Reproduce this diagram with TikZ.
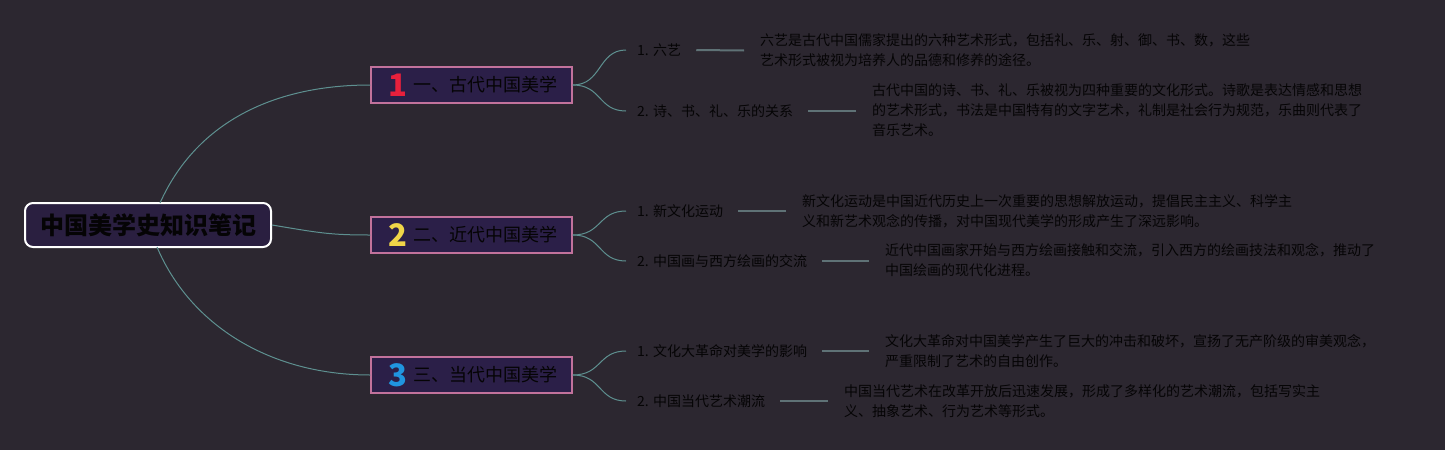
\documentclass[tikz,border=0pt]{standalone}
\usepackage{fontspec}
\setmainfont{Noto Sans CJK SC}
\definecolor{bg}{HTML}{2C2730}
\definecolor{boxfill}{HTML}{2B1F48}
\definecolor{rootfill}{HTML}{2A1F40}
\definecolor{pinkb}{HTML}{C2729C}
\definecolor{conn}{HTML}{5E9090}
\definecolor{leafl}{HTML}{5F7276}
\definecolor{txt}{HTML}{050405}
\definecolor{nred}{HTML}{E8203C}
\definecolor{nyel}{HTML}{F0D548}
\definecolor{nblue}{HTML}{2095E0}
\tikzset{
  rootbox/.style={draw=white, line width=2pt, fill=rootfill, rounded corners=8pt, minimum width=246pt, minimum height=44pt, inner sep=0pt, text=txt, font=\fontsize{24}{28}\selectfont\bfseries},
  branchbox/.style={draw=pinkb, line width=1.5pt, fill=boxfill, minimum width=201pt, minimum height=36pt, inner sep=0pt, text=txt, font=\fontsize{18}{22}\selectfont},
  numtxt/.style={inner sep=0pt, font=\fontsize{31}{32}\selectfont\bfseries},
  branchtxt/.style={anchor=west, inner sep=0pt, text=txt, font=\fontsize{18}{22}\selectfont},
  leaflabel/.style={anchor=west, inner sep=0pt, text=txt, font=\fontsize{14}{20}\selectfont},
  desc/.style={anchor=west, inner sep=0pt, text=txt, align=left, font=\fontsize{14}{20}\selectfont},
  bconn/.style={draw=conn, line width=1pt},
  lconn/.style={draw=leafl, line width=2pt},
}
\begin{document}
\begin{tikzpicture}[x=1pt,y=-1pt]
\fill[bg] (0,0) rectangle (1445,450);
\useasboundingbox (0,0) rectangle (1445,450);

% root
\node[rootbox] (root) at (148,225) {中国美学史知识笔记};

% branch boxes
\node[branchbox] (b1) at (471.5,85) {};
\node[branchbox] (b2) at (471.5,235) {};
\node[branchbox] (b3) at (471.5,375) {};
\node[numtxt, text=nred] (n1) at (398,85) {1};
\node[numtxt, text=nyel] (n2) at (398,235) {2};
\node[numtxt, text=nblue] (n3) at (398,375) {3};
\node[branchtxt] (t1) at (413,85) {一、古代中国美学};
\node[branchtxt] (t2) at (413,235) {二、近代中国美学};
\node[branchtxt] (t3) at (413,375) {三、当代中国美学};

% root connectors
\coordinate (rt) at (160,203);
\coordinate (rb) at (157,247);
\draw[bconn] (rt) .. controls (195,125) and (270,85) .. (b1.west);
\draw[bconn] (root.east) .. controls (320,233) and (330,235) .. (b2.west);
\draw[bconn] (rb) .. controls (190,325) and (270,375) .. (b3.west);

% leaf labels
\node[leaflabel] (l11) at (637,50) {1. 六艺};
\node[leaflabel] (l12) at (637,111) {2. 诗、书、礼、乐的关系};
\node[leaflabel] (l21) at (637,211) {1. 新文化运动};
\node[leaflabel] (l22) at (637,261) {2. 中国画与西方绘画的交流};
\node[leaflabel] (l31) at (637,351) {1. 文化大革命对美学的影响};
\node[leaflabel] (l32) at (637,401) {2. 中国当代艺术潮流};

% branch -> leaf connectors
\coordinate (e11) at (626,50);
\coordinate (e12) at (626,111);
\coordinate (e21) at (626,211);
\coordinate (e22) at (626,261);
\coordinate (e31) at (626,351);
\coordinate (e32) at (626,401);
\draw[bconn] (b1.east) .. controls (602,85) and (598,50) .. (e11);
\draw[bconn] (b1.east) .. controls (602,85) and (598,111) .. (e12);
\draw[bconn] (b2.east) .. controls (602,235) and (598,211) .. (e21);
\draw[bconn] (b2.east) .. controls (602,235) and (598,261) .. (e22);
\draw[bconn] (b3.east) .. controls (602,375) and (598,351) .. (e31);
\draw[bconn] (b3.east) .. controls (602,375) and (598,401) .. (e32);

% descriptions
\node[desc] (d11) at (760,50.5) {六艺是古代中国儒家提出的六种艺术形式，包括礼、乐、射、御、书、数，这些\\艺术形式被视为培养人的品德和修养的途径。};
\node[desc] (d12) at (872,110.5) {古代中国的诗、书、礼、乐被视为四种重要的文化形式。诗歌是表达情感和思想\\的艺术形式，书法是中国特有的文字艺术，礼制是社会行为规范，乐曲则代表了\\音乐艺术。};
\node[desc] (d21) at (802,211) {新文化运动是中国近代历史上一次重要的思想解放运动，提倡民主主义、科学主\\义和新艺术观念的传播，对中国现代美学的形成产生了深远影响。};
\node[desc] (d22) at (885,260.5) {近代中国画家开始与西方绘画接触和交流，引入西方的绘画技法和观念，推动了\\中国绘画的现代化进程。};
\node[desc] (d31) at (885,351) {文化大革命对中国美学产生了巨大的冲击和破坏，宣扬了无产阶级的审美观念，\\严重限制了艺术的自由创作。};
\node[desc] (d32) at (844,401) {中国当代艺术在改革开放后迅速发展，形成了多样化的艺术潮流，包括写实主\\义、抽象艺术、行为艺术等形式。};

% leaf -> description lines
\draw[lconn] ([xshift=15pt]l11.east) -- ([xshift=-16pt]d11.west);
\draw[lconn] ([xshift=15pt]l12.east) -- ([xshift=-16pt]l12.east -| d12.west);
\draw[lconn] ([xshift=15pt]l21.east) -- ([xshift=-16pt]l21.east -| d21.west);
\draw[lconn] ([xshift=15pt]l22.east) -- ([xshift=-16pt]l22.east -| d22.west);
\draw[lconn] ([xshift=15pt]l31.east) -- ([xshift=-16pt]l31.east -| d31.west);
\draw[lconn] ([xshift=15pt]l32.east) -- ([xshift=-16pt]l32.east -| d32.west);
\end{tikzpicture}
\end{document}
